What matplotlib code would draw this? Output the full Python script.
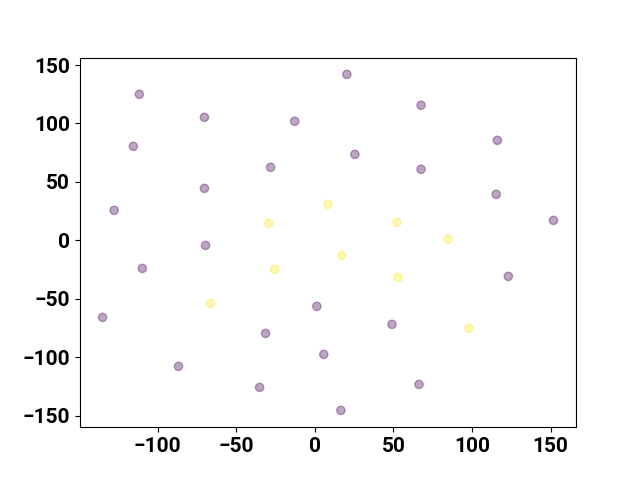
import matplotlib.pyplot as plt

plt.rcParams['font.family'] = ['Roboto', 'DejaVu Sans']
plt.rcParams['font.weight'] = 'bold'
plt.rcParams['font.size'] = 15

# cluster 0 (purple)
x0 = [-111.6, -115.4, -127.6, -109.7, -135.0, -70.2, -70.2, -69.5, -86.7,
      -28.1, -12.8, 20.4, 25.5, 67.6, 67.6, 116.1, 115.4, 151.8, 123.1,
      1.3, -31.3, 49.1, 5.7, -35.1, 16.6, 66.3]
y0 = [125.0, 80.5, 25.7, -24.0, -65.9, 105.3, 44.5, -4.3, -107.8,
      62.5, 101.9, 142.0, 73.6, 115.6, 60.8, 85.6, 39.4, 17.1, -30.8,
      -56.5, -79.6, -71.9, -97.6, -125.8, -145.5, -123.3]
# cluster 1 (yellow)
x1 = [-29.3, 8.3, 52.3, 84.8, -25.5, 17.2, 52.9, -66.3, 98.2]
y1 = [14.6, 30.8, 15.4, 0.9, -24.8, -12.8, -31.7, -53.9, -75.3]

xs = x0 + x1
ys = y0 + y1
labels = [0] * len(x0) + [1] * len(x1)

fig, ax = plt.subplots(figsize=(6.4, 4.8), dpi=100)
ax.scatter(xs, ys, c=labels, cmap='viridis', alpha=0.35)
fig.savefig('out.png')
